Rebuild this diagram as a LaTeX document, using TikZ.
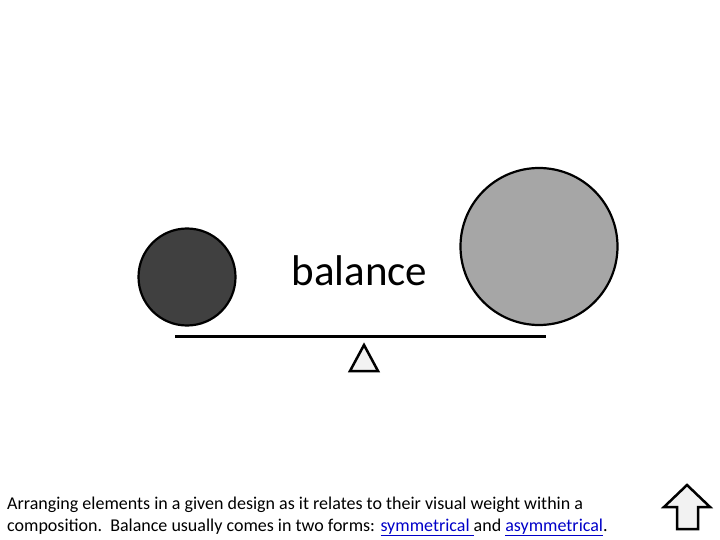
\documentclass[tikz,border=0pt]{standalone}
\usepackage{fontspec}
\setmainfont{Carlito}
\definecolor{darkball}{HTML}{404040}
\definecolor{lightball}{HTML}{A6A6A6}
\definecolor{pale}{HTML}{F2F2F2}
\definecolor{linkblue}{HTML}{0000C8}
\newcommand{\linkul}[1]{\begingroup\color{linkblue}\setlength{\fboxsep}{0pt}\underline{#1}\endgroup}
\begin{document}
\begin{tikzpicture}[x=1pt,y=-1pt,
  ball/.style={circle,draw=black,line width=2.2pt,inner sep=0pt},
  body/.style={font=\fontsize{18}{21}\selectfont,anchor=base west,inner sep=0pt}]
\useasboundingbox (0,0) rectangle (720,540);
\node[ball,fill=darkball,minimum size=97pt] (small) at (187,277) {};
\node[ball,fill=lightball,minimum size=157pt] (big) at (539,246.5) {};
\draw[line width=3pt] (175,336) coordinate (beamL) -- (546,336) coordinate (beamR);
\draw[line width=2.5pt,fill=pale,line join=miter] (364,345) coordinate (apex) -- (378,371) -- (350,371) -- cycle;
\node[font=\fontsize{43}{47}\selectfont,anchor=base,inner sep=0pt] (title) at (359.5,285) {balance};
\node[body] (l1) at (7,509) {Arranging elements in a given design as it relates to their visual weight within a};
\node[body] (l2) at (7,531) {composition.\ \ Balance usually comes in two forms: \linkul{symmetrical\ }and \linkul{asymmetrical}.};
\draw[line width=2.5pt,fill=pale,line join=miter] (687,485) coordinate (tip) -- (710,507) -- (698,507) -- (698,529) -- (677,529) -- (677,507) -- (664,507) -- cycle;
\end{tikzpicture}
\end{document}
